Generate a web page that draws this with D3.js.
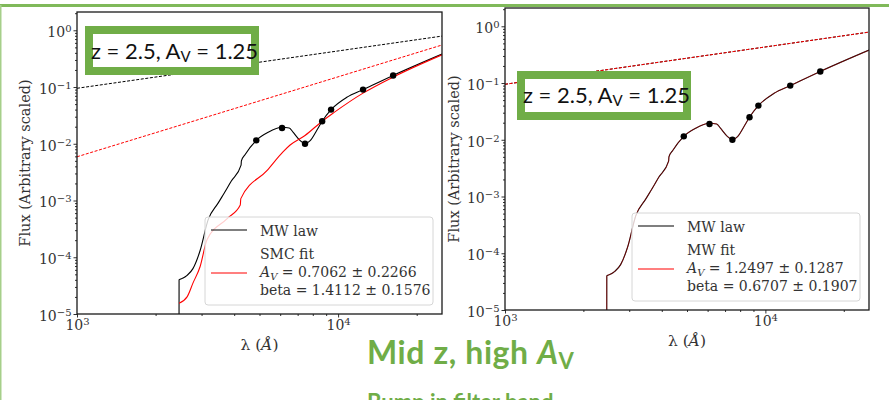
<!DOCTYPE html>
<html>
<head>
<meta charset="utf-8">
<script src="https://cdn.jsdelivr.net/npm/d3@7"></script>
<style>
body { margin: 0; background: #fff; }
</style>
</head>
<body>
<div id="chart-area"></div>
<script>
// MW law model spectrum (lambda in Angstrom, arbitrary flux)
var mwWave = [2459, 2460, 2550, 2640, 2780, 2960, 3180, 3470, 3590, 3900, 4250, 4262,
	4400, 4860, 5400, 6100, 6500, 6720, 7140, 7470, 7800, 8300, 8690, 9400, 10800, 12460, 16250, 25000];
var mwFlux = [5e-6, 4.0e-5, 4.3e-5, 4.8e-5, 6.3e-5, 1.3e-4, 4.6e-4, 9.0e-4, 1.16e-3, 2.2e-3, 4.2e-3, 5.0e-3,
	6.4e-3, 1.15e-2, 1.6e-2, 1.95e-2, 1.9e-2, 1.6e-2, 1.15e-2, 1.0e-2, 1.12e-2, 1.75e-2, 2.5e-2, 4.0e-2, 6.6e-2, 9.0e-2, 1.6e-1, 3.8e-1];

// SMC fit spectrum (left panel)
var smcWave = [2460, 2640, 2780, 2960, 3150, 3760, 4220, 4240, 5350, 6150, 6550, 7470, 8690, 9600, 12460, 16250, 25000];
var smcFlux = [1.55e-5, 2.0e-5, 3.5e-5, 6.8e-5, 2.05e-4, 4.8e-4, 8.3e-4, 1.08e-3, 3.4e-3, 7.2e-3, 9.5e-3, 1.4e-2, 2.5e-2, 3.5e-2, 7.8e-2, 1.5e-1, 3.7e-1];

// MW fit (right panel) sits on top of the MW law
var mwFitWave = mwWave;
var mwFitFlux = mwFlux;

// photometry points
var photWave = [4860, 6100, 7470, 8690, 9400, 12460, 16250];
var photFlux = [0.0115, 0.019, 0.0100, 0.025, 0.040, 0.090, 0.160];

// dashed power laws (ends of the range)
var dashWave = [1000, 25000];
var mwDashFlux = [0.095, 0.79];
var smcDashFlux = [0.0059, 0.55];

var xMajor = [1000, 10000];
var xMajorExp = ["3", "4"];
var yMajor = [1e-5, 1e-4, 1e-3, 1e-2, 1e-1, 1];
var yMajorExp = ["\u22125", "\u22124", "\u22123", "\u22122", "\u22121", "0"];

var leftLegend = ["MW law", "SMC fit", "0.7062 \u00b1 0.2266", "beta = 1.4112 \u00b1 0.1576"];
var rightLegend = ["MW law", "MW fit", "1.2497 \u00b1 0.1287", "beta = 0.6707 \u00b1 0.1907"];

var green = "#70ad47";
var serif = "'DejaVu Serif', serif";
var sans = "Lato, 'Open Sans', sans-serif";

var svg = d3.select("#chart-area")
	.append("svg")
		.attr("width", 889)
		.attr("height", 400);

svg.append("rect").attr("width", 889).attr("height", 400).attr("fill", "#fff");

function zip(a, b) { return a.map(function(d, i) { return [d, b[i]]; }); }

function drawPanel(p) {
	var w = p.right - p.left,
		h = p.bottom - p.top;

	var g = svg.append("g")
		.attr("transform", "translate(" + p.left + ", " + p.top + ")")
		.style("font-family", serif);

	var x = d3.scaleLog().domain([1000, 25000]).range([0, w]);
	var y = d3.scaleLog().domain([1e-5, 2.1]).range([h, 0]);

	g.append("clipPath").attr("id", p.id + "-clip")
		.append("rect").attr("width", w).attr("height", h);

	var plot = g.append("g").attr("clip-path", "url(#" + p.id + "-clip)");

	var line = d3.line()
		.x(function(d) { return x(d[0]); })
		.y(function(d) { return y(d[1]); });
	var smooth = d3.line()
		.x(function(d) { return x(d[0]); })
		.y(function(d) { return y(d[1]); })
		.curve(d3.curveMonotoneX);

	// dashed lines
	p.dashes.forEach(function(ds) {
		plot.append("path")
			.attr("d", line(zip(dashWave, ds.flux)))
			.attr("fill", "none")
			.attr("stroke", ds.color)
			.attr("stroke-width", 1)
			.attr("stroke-dasharray", "3,1.6");
	});

	plot.append("path")
		.attr("d", smooth(zip(mwWave, mwFlux)))
		.attr("fill", "none")
		.attr("stroke", "#000")
		.attr("stroke-width", 1.1);

	plot.append("path")
		.attr("d", smooth(zip(p.fitWave, p.fitFlux)))
		.attr("fill", "none")
		.attr("stroke", "red")
		.attr("stroke-opacity", p.fitOpacity)
		.attr("stroke-width", p.fitWidth);

	plot.selectAll("circle")
		.data(zip(photWave, photFlux))
		.enter()
		.append("circle")
		.attr("cx", function(d) { return x(d[0]); })
		.attr("cy", function(d) { return y(d[1]); })
		.attr("r", 3.2)
		.attr("fill", "#000");

	// axes
	var xMinor = x.ticks().filter(function(d) { return xMajor.indexOf(d) < 0; });
	var yMinor = y.ticks().filter(function(d) { return yMajor.indexOf(d) < 0; });

	g.append("g")
		.attr("transform", "translate(0, " + h + ")")
		.call(d3.axisBottom(x).tickValues(xMinor).tickSize(2).tickFormat(""))
		.call(styleAxis);
	g.append("g")
		.attr("class", "x axis")
		.attr("transform", "translate(0, " + h + ")")
		.call(d3.axisBottom(x).tickValues(xMajor).tickSize(3.5).tickPadding(3))
		.call(styleAxis)
		.selectAll("text")
			.each(function(d, i) { power(d3.select(this), xMajorExp[i]); });

	g.append("g")
		.call(d3.axisLeft(y).tickValues(yMinor).tickSize(2).tickFormat(""))
		.call(styleAxis);
	g.append("g")
		.attr("class", "y axis")
		.call(d3.axisLeft(y).tickValues(yMajor).tickSize(3.5).tickPadding(2))
		.call(styleAxis)
		.selectAll("text")
			.attr("dy", "0.45em")
			.each(function(d, i) { power(d3.select(this), yMajorExp[i]); });

	g.append("rect")
		.attr("width", w).attr("height", h)
		.attr("fill", "none")
		.attr("stroke", "#1a1a1a")
		.attr("stroke-width", 1.3);

	// axis labels
	var xl = g.append("text")
		.attr("x", w / 2)
		.attr("y", h + p.xLabelDy)
		.attr("text-anchor", "middle")
		.attr("font-size", "15.5px")
		.attr("fill", "#333");
	xl.append("tspan").text("\u03bb (");
	xl.append("tspan").attr("font-style", "italic").text("\u00c5");
	xl.append("tspan").text(")");

	g.append("text")
		.attr("transform", "translate(" + p.yLabelX + ", " + (h / 2) + ") rotate(-90)")
		.attr("text-anchor", "middle")
		.attr("font-size", "14.5px")
		.attr("fill", "#333")
		.text("Flux (Arbitrary scaled)");

	// legend
	var lg = g.append("g")
		.attr("transform", "translate(" + (w - 237) + ", " + (h - 97) + ")");
	lg.append("rect")
		.attr("width", 228).attr("height", 88)
		.attr("rx", 3)
		.attr("fill", "#fff").attr("fill-opacity", 0.8)
		.attr("stroke", "#d6d6d6");
	lg.append("line").attr("x1", 6).attr("x2", 42).attr("y1", 13).attr("y2", 13)
		.attr("stroke", "#000").attr("stroke-width", 1.2);
	lg.append("line").attr("x1", 6).attr("x2", 42).attr("y1", 56).attr("y2", 56)
		.attr("stroke", "red").attr("stroke-width", 1.2);

	var lt = lg.append("g").attr("font-size", "14px").attr("fill", "#333");
	lt.append("text").attr("x", 55).attr("y", 19).text(p.legend[0]);
	lt.append("text").attr("x", 55).attr("y", 42).text(p.legend[1]);
	var av = lt.append("text").attr("x", 55).attr("y", 60);
	av.append("tspan").attr("font-style", "italic").text("A");
	av.append("tspan").attr("font-style", "italic").attr("font-size", "10px").attr("dy", "3").text("V");
	av.append("tspan").attr("dy", "-3").text(" = " + p.legend[2]);
	lt.append("text").attr("x", 55).attr("y", 78).text(p.legend[3]);
}

function styleAxis(sel) {
	sel.select(".domain").remove();
	sel.attr("font-family", null);
	sel.selectAll("line").attr("stroke", "#1a1a1a").attr("stroke-width", 0.9);
	sel.selectAll("text")
		.attr("font-size", "14px")
		.attr("fill", "#333");
}

function power(t, e) {
	t.text(null);
	t.append("tspan").text("10");
	t.append("tspan").attr("dy", "-0.5em").attr("font-size", "10px").text(e);
}

drawPanel({
	id: "left", left: 77, right: 442, top: 12, bottom: 314,
	fitWave: smcWave, fitFlux: smcFlux, fitOpacity: 1, fitWidth: 1.1,
	dashes: [{ flux: mwDashFlux, color: "#000" }, { flux: smcDashFlux, color: "red" }],
	legend: leftLegend, xLabelDy: 36, yLabelX: -47
});

drawPanel({
	id: "right", left: 505, right: 869, top: 8, bottom: 310,
	fitWave: mwFitWave, fitFlux: mwFitFlux, fitOpacity: 0.45, fitWidth: 0.9,
	dashes: [{ flux: mwDashFlux, color: "#000" }, { flux: mwDashFlux, color: "red" }],
	legend: rightLegend, xLabelDy: 36, yLabelX: -46
});

// slide decorations
svg.append("rect").attr("x", 0).attr("y", 4).attr("width", 889).attr("height", 3).attr("fill", "#80b95a");
svg.append("rect").attr("x", 0).attr("y", 5).attr("width", 1.5).attr("height", 395).attr("fill", "#a6cf8a");

function tagBox(bx, by, tx, ty) {
	svg.append("rect")
		.attr("x", bx).attr("y", by).attr("width", 166).attr("height", 41)
		.attr("fill", "#fff")
		.attr("stroke", green).attr("stroke-width", 8);
	var t = svg.append("text")
		.attr("x", tx).attr("y", ty)
		.style("font-family", sans)
		.attr("font-size", "22px")
		.attr("fill", "#111");
	t.append("tspan").text("z = 2.5, A");
	t.append("tspan").attr("font-size", "15px").attr("dy", "3").text("V");
	t.append("tspan").attr("dy", "-3").text(" = 1.25");
}
tagBox(89, 30, 91, 59);
tagBox(521, 75, 523, 103);

var title = svg.append("text")
	.attr("x", 367).attr("y", 364)
	.style("font-family", sans)
	.attr("font-weight", "bold")
	.attr("font-size", "32px")
	.attr("letter-spacing", "0.6px")
	.attr("fill", green);
title.append("tspan").text("Mid z, high ");
title.append("tspan").attr("font-style", "italic").text("A");
title.append("tspan").attr("font-size", "22px").attr("dy", "5").text("V");

svg.append("text")
	.attr("x", 367).attr("y", 410)
	.style("font-family", sans)
	.attr("font-weight", "bold")
	.attr("font-size", "22px")
	.attr("fill", green)
	.text("Bump in filter band");
</script>
</body>
</html>
